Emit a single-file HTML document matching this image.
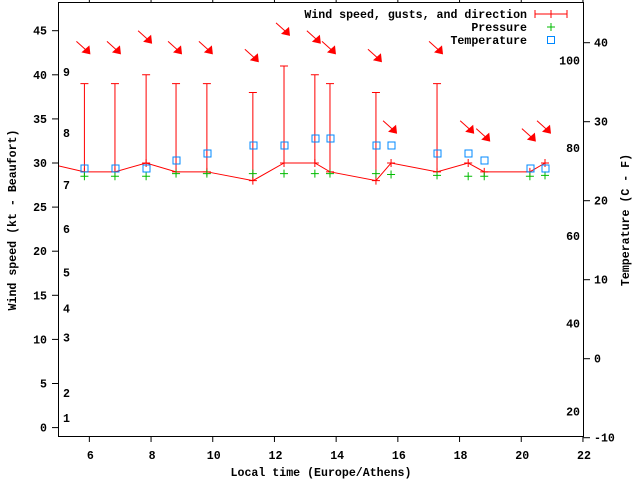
<!DOCTYPE html>
<html><head><meta charset="utf-8"><style>
html,body{margin:0;padding:0;background:#fff}
svg{display:block}
text{font-family:"Liberation Mono",monospace;font-size:11.6px;font-weight:bold;fill:#000}
</style></head><body>
<svg id="chart" width="640" height="480" viewBox="0 0 640 480" xmlns="http://www.w3.org/2000/svg">
<rect x="0" y="0" width="640" height="480" fill="#fff"/>
<g id="grid"></g>
<g id="marks"></g>
<rect x="58.5" y="2.5" width="525" height="434" fill="none" stroke="#000" stroke-width="1"/>
<text x="321" y="476" text-anchor="middle">Local time (Europe/Athens)</text>
<text transform="translate(16,220) rotate(-90)" text-anchor="middle">Wind speed (kt - Beaufort)</text>
<text transform="translate(629,220) rotate(-90)" text-anchor="middle">Temperature (C - F)</text>
<g>
<text x="527" y="18" text-anchor="end">Wind speed, gusts, and direction</text>
<line x1="535" y1="14" x2="567" y2="14" stroke="#f00"/><line x1="535" y1="10" x2="535" y2="18" stroke="#f00"/><line x1="567" y1="10" x2="567" y2="18" stroke="#f00"/><line x1="551" y1="10" x2="551" y2="18" stroke="#f00"/>
<text x="527" y="31" text-anchor="end">Pressure</text>
<path d="M547 27h8M551 23v8" stroke="#0b0" fill="none"/>
<text x="527" y="44" text-anchor="end">Temperature</text>
<rect x="547.5" y="36.5" width="7" height="7" fill="none" stroke="#08f"/>
</g>
</svg>
<script>
const hours=[5.84,6.83,7.84,8.81,9.81,11.3,12.31,13.31,13.8,15.29,15.78,17.27,18.28,18.8,20.28,20.77];
const windKt=[29,29,30,29,29,28,30,30,29,28,30,29,30,29,29,30];
const gustKt=[39,39,40,39,39,38,41,40,39,38,null,39,null,null,null,null];
const arrowKt=[43,43,44.2,43,43,42.1,45.1,44.2,43,42.1,34,43,34,33.1,33.1,34];
const pressureKt=[28.5,28.5,28.5,28.8,28.8,28.8,28.8,28.8,28.8,28.8,28.7,28.6,28.5,28.5,28.5,28.6];
const tempC=[24.1,24.1,24.1,25.1,26,27,27,28,28,27,27,26,26,25.1,24.1,24.1];
const xTicks=[6,8,10,12,14,16,18,20,22];
const yTicks=[0,5,10,15,20,25,30,35,40,45];
const y2Ticks=[-10,0,10,20,30,40];
const fTicks=[20,40,60,80,100];
const beaufort=[[1,1.1],[2,3.9],[3,10.2],[4,13.5],[5,17.6],[6,22.5],[7,27.5],[8,33.4],[9,40.3]];
const startPoint=[4.85,29.8];

const X=h=>58.5+(h-5)*30.85;
const Y=k=>427.6-k*8.82;
const Y2=c=>437.7-(c+10)*7.9;
const NS="http://www.w3.org/2000/svg";
const g=document.getElementById('grid'), m=document.getElementById('marks');
function el(t,a,p){const e=document.createElementNS(NS,t);for(const k in a)e.setAttribute(k,a[k]);p.appendChild(e);return e;}

xTicks.forEach(t=>{const x=X(t);
 el('line',{x1:x,y1:437,x2:x,y2:442,stroke:'#000'},g);
 el('line',{x1:x,y1:3,x2:x,y2:-2,stroke:'#000'},g);
 const e=el('text',{x:x+1,y:459,'text-anchor':'middle'},g);e.textContent=t;
 
 });
yTicks.forEach(t=>{const y=Y(t);
 el('line',{x1:52,y1:y,x2:58.5,y2:y,stroke:'#000'},g);
 const e=el('text',{x:47,y:y+4,'text-anchor':'end'},g);e.textContent=t;
 
 });
y2Ticks.forEach(t=>{const y=Y2(t);
 el('line',{x1:583.5,y1:y,x2:590,y2:y,stroke:'#000'},g);
 const e=el('text',{x:594,y:y+4},g);e.textContent=t;
 
 });
fTicks.forEach(f=>{const y=Y2((f-32)*5/9);
 const e=el('text',{x:580,y:y+4,'text-anchor':'end'},g);e.textContent=f;
 
 });
beaufort.forEach(b=>{
 const e=el('text',{x:63,y:Y(b[1])+4},g);e.textContent=b[0];
 
 });

hours.forEach((h,i)=>{if(gustKt[i]==null)return;const x=X(h);
 const l=el('path',{d:`M${x} ${Y(windKt[i])}V${Y(gustKt[i])}M${x-4} ${Y(gustKt[i])}h8`,stroke:'#f00',fill:'none'},m);
 
 });
let d=`M${X(startPoint[0])} ${Y(startPoint[1])}`;
hours.forEach((h,i)=>{d+=`L${X(h)} ${Y(windKt[i])}`;});
const cp=el('clipPath',{id:'pc'},m);el('rect',{x:58.5,y:2.5,width:525,height:434},cp);
const wl=el('path',{d:d,stroke:'#f00',fill:'none','clip-path':'url(#pc)'},m);


hours.forEach((h,i)=>{const x=X(h),y=Y(windKt[i]);
 const p=el('path',{d:`M${x-4} ${y}h8M${x} ${y-4}v8`,stroke:'#f00',fill:'none'},m);
 
 });
hours.forEach((h,i)=>{const x=X(h),y=Y(pressureKt[i]);
 const p=el('path',{d:`M${x-4} ${y}h8M${x} ${y-4}v8`,stroke:'#0b0',fill:'none'},m);
 
 });
hours.forEach((h,i)=>{const x=Math.round(X(h))+0.5,y=Math.round(Y2(tempC[i]))+0.5;
 const r=el('rect',{x:x-3.5,y:y-3.5,width:7,height:7,fill:'none',stroke:'#08f'},m);
 
 });
hours.forEach((h,i)=>{const x=X(h),y=Y(arrowKt[i]);
 const a=el('g',{},m);
 
 
 el('line',{x1:x-8,y1:y-7,x2:x+2,y2:y+2,stroke:'#f00'},a);
 el('polygon',{points:`${x+6},${y+6} ${x-3},${y+4} ${x+5},${y-3}`,fill:'#f00'},a);});
</script>
</body></html>
